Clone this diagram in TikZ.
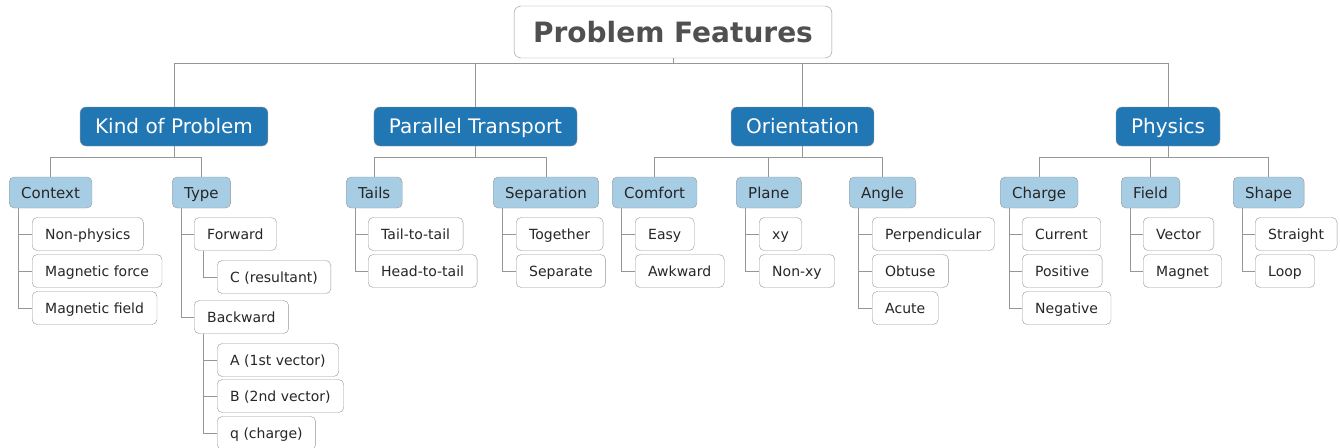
\documentclass[tikz,border=0pt]{standalone}
\usepackage{fontspec}
\setmainfont{DejaVu Sans}
\usepackage{xcolor}

\definecolor{topblue}{RGB}{33,118,180}
\definecolor{subblue}{RGB}{167,205,228}
\definecolor{linegray}{RGB}{150,150,150}
\definecolor{titlegray}{RGB}{80,80,80}

\tikzset{
    conn/.style={draw=linegray, line width=0.9pt},
    rootbox/.style={draw=linegray, fill=white, rounded corners=7pt, text=titlegray,
        font=\fontsize{28}{30}\selectfont\bfseries, inner xsep=19pt, minimum height=52pt,
        text height=26.4pt, text depth=6pt},
    kindbox/.style={draw=linegray, fill=topblue, rounded corners=6pt, text=white,
        font=\fontsize{20}{22}\selectfont, inner xsep=15pt, minimum height=39pt,
        text height=19.1pt, text depth=4.5pt},
    featbox/.style={draw=linegray, fill=subblue, rounded corners=5pt, text=black!85,
        font=\fontsize{15}{17}\selectfont, inner xsep=12pt, minimum height=31pt, anchor=west,
        text height=14.5pt, text depth=3.5pt},
    valbox/.style={draw=linegray, fill=white, rounded corners=5pt, text=black!85,
        font=\fontsize{14}{16}\selectfont, inner xsep=13pt, minimum height=33pt, anchor=west,
        text height=13.5pt, text depth=3.3pt}
}

\begin{document}
\begin{tikzpicture}[x=1pt, y=-1pt]

    % Canvas
    \useasboundingbox (0,0) rectangle (1340,447);

    % Row heights
    \def\rowA{192.5} % feature row
    \def\rowB{234}   % first value row
    \def\rowC{271}
    \def\rowD{308}

    % Root
    \node[rootbox] (root) at (673,32) {Problem Features};

    % Main groups
    \node[kindbox] (kind)   at (174,126.5) {Kind of Problem};
    \node[kindbox] (transp) at (475.5,126.5) {Parallel Transport};
    \node[kindbox] (orient) at (802.5,126.5) {Orientation};
    \node[kindbox] (phys)   at (1168,126.5) {Physics};

    \foreach \g in {kind,transp,orient,phys}
        \draw[conn] (root.south) -- ++(0,5) -| (\g.north);

    % Features
    \node[featbox] (context) at (9,\rowA) {Context};
    \node[featbox] (type)    at (172,\rowA) {Type};
    \node[featbox] (tails)   at (346,\rowA) {Tails};
    \node[featbox] (separ)   at (493,\rowA) {Separation};
    \node[featbox] (comfort) at (612,\rowA) {Comfort};
    \node[featbox] (plane)   at (736,\rowA) {Plane};
    \node[featbox] (angle)   at (849,\rowA) {Angle};
    \node[featbox] (charge)  at (1000,\rowA) {Charge};
    \node[featbox] (field)   at (1121,\rowA) {Field};
    \node[featbox] (shape)   at (1233,\rowA) {Shape};

    \foreach \g/\f in {kind/context, kind/type, transp/tails, transp/separ,
                       orient/comfort, orient/plane, orient/angle,
                       phys/charge, phys/field, phys/shape}
        \draw[conn] (\g.south) -- ++(0,11) -| (\f.north);

    % Kind of problem values
    \node[valbox] (nonphys) at (32,\rowB) {Non-physics};
    \node[valbox] (magforce) at (32,\rowC) {Magnetic force};
    \node[valbox] (magfield) at (32,\rowD) {Magnetic field};
    \node[valbox] (forward) at (194,\rowB) {Forward};
    \node[valbox] (cres) at (217,277) {C (resultant)};
    \node[valbox] (backward) at (194,317) {Backward};
    \node[valbox] (avec) at (217,360) {A (1st vector)};
    \node[valbox] (bvec) at (217,396) {B (2nd vector)};
    \node[valbox] (qchg) at (217,433) {q (charge)};

    % Parallel transport values
    \node[valbox] (tailtail) at (368,\rowB) {Tail-to-tail};
    \node[valbox] (headtail) at (368,\rowC) {Head-to-tail};
    \node[valbox] (together) at (516,\rowB) {Together};
    \node[valbox] (separate) at (516,\rowC) {Separate};

    % Orientation values
    \node[valbox] (easy) at (635,\rowB) {Easy};
    \node[valbox] (awkward) at (635,\rowC) {Awkward};
    \node[valbox] (xy) at (759,\rowB) {xy};
    \node[valbox] (nonxy) at (759,\rowC) {Non-xy};
    \node[valbox] (perp) at (872,\rowB) {Perpendicular};
    \node[valbox] (obtuse) at (872,\rowC) {Obtuse};
    \node[valbox] (acute) at (872,\rowD) {Acute};

    % Physics values
    \node[valbox] (current) at (1022,\rowB) {Current};
    \node[valbox] (positive) at (1022,\rowC) {Positive};
    \node[valbox] (negative) at (1022,\rowD) {Negative};
    \node[valbox] (vector) at (1143,\rowB) {Vector};
    \node[valbox] (magnet) at (1143,\rowC) {Magnet};
    \node[valbox] (straight) at (1255,\rowB) {Straight};
    \node[valbox] (loop) at (1255,\rowC) {Loop};

    % Spines
    \foreach \f/\v in {context/nonphys, context/magforce, context/magfield,
                       type/forward, type/backward, forward/cres,
                       backward/avec, backward/bvec, backward/qchg,
                       tails/tailtail, tails/headtail, separ/together, separ/separate,
                       comfort/easy, comfort/awkward, plane/xy, plane/nonxy,
                       angle/perp, angle/obtuse, angle/acute,
                       charge/current, charge/positive, charge/negative,
                       field/vector, field/magnet, shape/straight, shape/loop}
        \draw[conn] ([xshift=9.5pt]\f.south west) |- (\v.west);

\end{tikzpicture}
\end{document}
